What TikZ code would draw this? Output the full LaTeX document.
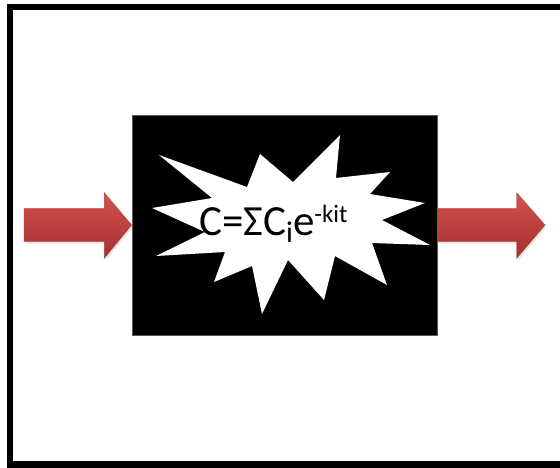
\documentclass[tikz,border=0pt]{standalone}
\usepackage{fontspec}
\setmainfont{Carlito}
\usetikzlibrary{shadows}
\definecolor{BoxEdge}{HTML}{5A5A5A}
\definecolor{ArrowTop}{HTML}{D3524F}
\definecolor{ArrowBottom}{HTML}{A5302D}
\definecolor{ArrowEdge}{HTML}{B63F3C}

\begin{document}
\begin{tikzpicture}[x=1pt, y=-1pt,
    frameline/.style={draw=black, line width=6.5pt},
    procbox/.style={draw=BoxEdge, fill=black, line width=0.8pt, minimum width=305pt, minimum height=220pt, inner sep=0pt},
    burst/.style={fill=white, draw=none},
    flowarrow/.style={top color=ArrowTop, bottom color=ArrowBottom, draw=ArrowEdge, line width=0.4pt,
        drop shadow={shadow xshift=1.5pt, shadow yshift=-2pt, opacity=0.2}},
    formula/.style={font=\fontsize{43}{45}\selectfont, text=black, inner sep=0pt, anchor=base west}
]

\useasboundingbox (0,0) rectangle (560,468);
\clip (0,0) rectangle (560,468);
\fill[white] (0,0) rectangle (560,468);

% outer frame, open to the right
\draw[frameline] (10,7) rectangle (580,464.5);

% the process box
\node[procbox] (proc) at (284.5,225) {};

% explosion
\fill[burst] (159,155) -- (247,187) -- (260,154) -- (293,182) -- (340,135) -- (336,178)
    -- (390,172) -- (370,194) -- (425,203) -- (382,220) -- (430,245) -- (372,243)
    -- (387,285) -- (335,256) -- (324,300) -- (288,260) -- (262,314) -- (252,266)
    -- (214,282) -- (225,252) -- (156,256) -- (205,232) -- (152,208) -- (212,198) -- cycle;

\node[formula] (eq) at (199,235)
    {C=ΣC\raisebox{-8pt}{\fontsize{30}{30}\selectfont i}e\raisebox{13pt}{\fontsize{25}{25}\selectfont -kit}};

% input and output arrows
\coordinate (intip) at (proc.west);
\coordinate (outtail) at (proc.east);
\path[flowarrow] (24,208.3) -- (104.3,208.3) -- (104.3,192.7) -- (intip) -- (104.3,258.3)
    -- (104.3,241.7) -- (24,241.7) -- cycle;
\path[flowarrow] (outtail |- 0,208.3) -- (516.7,208.3) -- (516.7,192.7) -- (545,225) -- (516.7,258.3)
    -- (516.7,241.7) -- (outtail |- 0,241.7) -- cycle;

\end{tikzpicture}
\end{document}
